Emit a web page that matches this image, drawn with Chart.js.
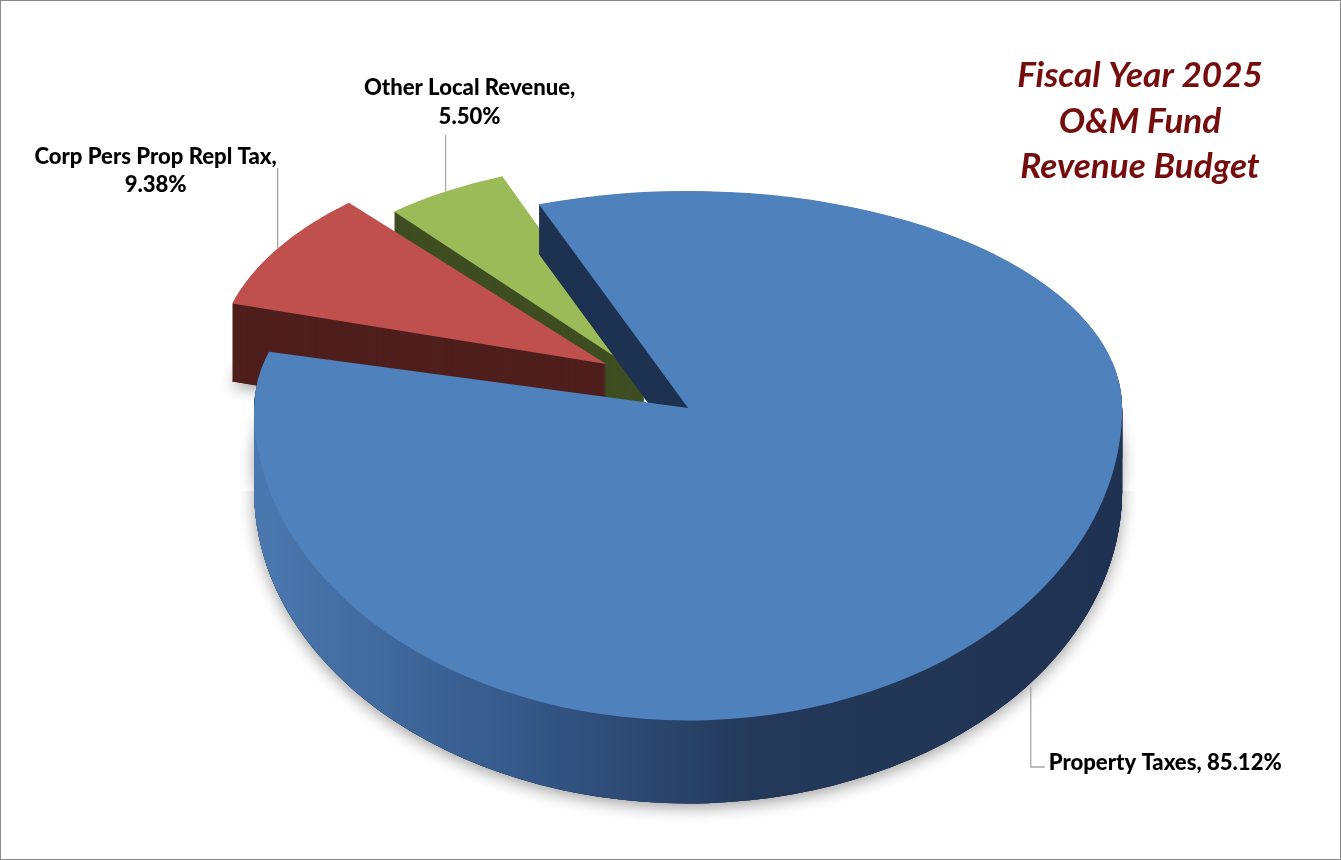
<!DOCTYPE html>
<html><head><meta charset="utf-8">
<script src="https://cdn.jsdelivr.net/npm/chart.js@4.4.1/dist/chart.umd.min.js"></script>
<style>
html,body{margin:0;padding:0;background:#fff;overflow:hidden}
#frame{position:absolute;left:0;top:0;width:1341px;height:860px;box-sizing:border-box;border:1px solid #8a8a8a;background:#fff}
#c{display:block}
</style></head><body>
<div id="frame"><canvas id="c" width="1339" height="858" style="width:1339px;height:858px"></canvas></div>
<script>
// ---- data ----
const categories = ['Property Taxes', 'Corp Pers Prop Repl Tax', 'Other Local Revenue'];
const shares = [85.12, 9.38, 5.50];
const shareLabels = ['85.12%', '9.38%', '5.50%'];
const titleLines = ['Fiscal Year 2025', 'O&M Fund', 'Revenue Budget'];

// ---- style (3-D look) ----
const topColors = ['#4f81bd', '#c0504d', '#9bbb59'];
const sideColors = ['#1f3352', '#4f1f1d', '#3f4e22'];
const explode = [120, 320, 184];
const tiltFar = [0.50, 0.55, 0.55];
const tiltNear = [0.72, 0.55, 0.55];
const farDepth = [0.6, 1, 1];
const sizeK = [1, 0.887, 0.90];
const lift = [-36, -59, -48];
const depth = [83, 78, 78];
const anchorOwn = [true, false, false];
const FONT = 'Lato, "Open Sans", sans-serif';

function geom(arc) {
  const p = arc.getProps(['x', 'y', 'startAngle', 'endAngle', 'outerRadius'], true);
  const off = (arc.options.offset || 0) / 4;
  const half = (p.startAngle + p.endAngle) / 2;
  const circ = p.endAngle - p.startAngle;
  const fix = 1 - Math.sin(Math.min(Math.PI, circ));
  return { p, ux: p.x + Math.cos(half) * off, uy: p.y + Math.sin(half) * off, R: p.outerRadius + off * fix, circ };
}
function toScreen(arc, i, px, py, dy) {
  const g = geom(arc);
  const ay = anchorOwn[i] ? g.uy : g.p.y;
  const far = py < g.uy;
  const k = far ? tiltFar[i] : tiltNear[i];
  const d = far ? dy * farDepth[i] : dy;
  return { x: g.p.x + sizeK[i] * (px - g.p.x), y: g.p.y + lift[i] + d + sizeK[i] * k * (py - ay) };
}
function rimPoint(chart, i, frac, dy) {
  const arc = chart.getDatasetMeta(0).data[i];
  const g = geom(arc);
  const a = g.p.startAngle + frac * g.circ;
  return toScreen(arc, i, g.ux + g.R * Math.cos(a), g.uy + g.R * Math.sin(a), dy);
}

function drawLayer(chart, i, dy, shadow) {
  const ctx = chart.ctx;
  const arc = chart.getDatasetMeta(0).data[i];
  const g = geom(arc);
  const cx = g.p.x, cy = g.p.y;
  const ay = anchorOwn[i] ? g.uy : cy;
  const s = sizeK[i];
  const halves = tiltFar[i] === tiltNear[i] ? [[tiltFar[i], null]] : [[tiltFar[i], 'up'], [tiltNear[i], 'down']];
  const splitDown = cy + lift[i] + dy;
  for (const [k, side] of halves) {
    const d = side === 'up' ? dy * farDepth[i] : dy;
    const split = cy + lift[i] + d + (anchorOwn[i] ? 0 : s * tiltFar[i] * (g.uy - cy));
    ctx.save();
    if (side) {
      ctx.beginPath();
      if (side === 'up') ctx.rect(0, 0, chart.width, shadow ? splitDown : split);
      else ctx.rect(0, split, chart.width, chart.height - split);
      ctx.clip();
    }
    if (shadow) {
      if (side === 'up') {
        ctx.beginPath();
        ctx.rect(0, 0, cx - 250, chart.height);
        ctx.rect(cx + 250, 0, chart.width - cx - 250, chart.height);
        ctx.clip();
      }
      ctx.shadowColor = 'rgba(0,0,0,0.38)'; ctx.shadowBlur = 16; ctx.shadowOffsetY = 4;
    }
    ctx.translate(cx, cy + lift[i] + d);
    ctx.scale(s, s * k);
    ctx.translate(-cx, -ay);
    arc.draw(ctx);
    ctx.restore();
  }
}

const pie3d = {
  id: 'pie3d',
  beforeDatasetsDraw(chart) {
    const ctx = chart.ctx;
    const meta = chart.getDatasetMeta(0);
    const order = [2, 1, 0];
    for (const i of order) {
      const arc = meta.data[i];
      const orig = arc.options;
      arc.options = Object.assign({}, orig, { backgroundColor: sideColors[i], borderWidth: 0 });
      drawLayer(chart, i, depth[i], true);
      for (let d = depth[i]; d >= 1; d--) drawLayer(chart, i, d, false);
      if (i === 0) {
        const cx = arc.x, cy = arc.y;
        const grad = ctx.createLinearGradient(cx - 420, 0, cx + 460, 0);
        grad.addColorStop(0, '#4a77ae');
        grad.addColorStop(0.28, '#35598a');
        grad.addColorStop(0.55, '#24395a');
        grad.addColorStop(1, '#1f3150');
        arc.options = Object.assign({}, orig, { backgroundColor: grad, borderWidth: 0 });
        ctx.save();
        ctx.beginPath(); ctx.rect(0, cy + lift[0], chart.width, chart.height); ctx.clip();
        for (let d = depth[i]; d >= 1; d--) drawLayer(chart, i, d, false);
        ctx.restore();
      }
      arc.options = orig;
      drawLayer(chart, i, 0, false);
    }
    return false;
  }
};

function fitSize(ctx, text, targetW, style) {
  ctx.font = style + ' 40px ' + FONT;
  return 40 * targetW / ctx.measureText(text).width;
}

const labelsPlugin = {
  id: 'labels3d',
  afterDraw(chart) {
    const ctx = chart.ctx;
    ctx.save();
    // title
    const ts = fitSize(ctx, titleLines[0], 246, 'italic bold');
    ctx.font = 'italic bold ' + ts.toFixed(1) + 'px ' + FONT;
    ctx.fillStyle = '#760d0d';
    ctx.textAlign = 'center'; ctx.textBaseline = 'alphabetic';
    const tb = [86, 132, 177];
    titleLines.forEach((t, k) => ctx.fillText(t, 1139, tb[k]));

    // data labels
    const ls = fitSize(ctx, categories[0] + ', ' + shareLabels[0], 233, '900');
    ctx.font = '900 ' + ls.toFixed(1) + 'px ' + FONT;
    ctx.fillStyle = '#000';
    ctx.strokeStyle = '#a6a6a6'; ctx.lineWidth = 1.3;
    ctx.textBaseline = 'middle';

    // Property Taxes
    let p = rimPoint(chart, 0, 0.485, depth[0]);
    ctx.beginPath(); ctx.moveTo(p.x, p.y + 4); ctx.lineTo(p.x, 766); ctx.lineTo(p.x + 14, 766); ctx.stroke();
    ctx.textAlign = 'left';
    ctx.fillText(categories[0] + ', ' + shareLabels[0], p.x + 18, 762);

    // Corp Pers Prop Repl Tax
    p = rimPoint(chart, 1, 0.5, 0);
    ctx.beginPath(); ctx.moveTo(p.x, p.y); ctx.lineTo(p.x, 167); ctx.stroke();
    ctx.textAlign = 'center';
    ctx.fillText(categories[1] + ',', p.x - 122, 156);
    ctx.fillText(shareLabels[1], p.x - 122, 184);

    // Other Local Revenue
    p = rimPoint(chart, 2, 0.5, 0);
    ctx.beginPath(); ctx.moveTo(p.x, p.y); ctx.lineTo(p.x, 134); ctx.stroke();
    ctx.fillText(categories[2] + ',', p.x + 24, 87);
    ctx.fillText(shareLabels[2], p.x + 24, 116);
    ctx.restore();
  }
};

new Chart(document.getElementById('c'), {
  type: 'pie',
  data: {
    labels: categories,
    datasets: [{ data: shares, backgroundColor: topColors, borderWidth: 0, offset: explode }]
  },
  options: {
    responsive: false,
    animation: false,
    events: [],
    rotation: -20.75,
    radius: 404,
    layout: { padding: { left: 0, right: 9, top: 28, bottom: 0 } },
    plugins: { legend: { display: false }, tooltip: { enabled: false }, title: { display: false } }
  },
  plugins: [pie3d, labelsPlugin]
});
</script>
</body></html>
